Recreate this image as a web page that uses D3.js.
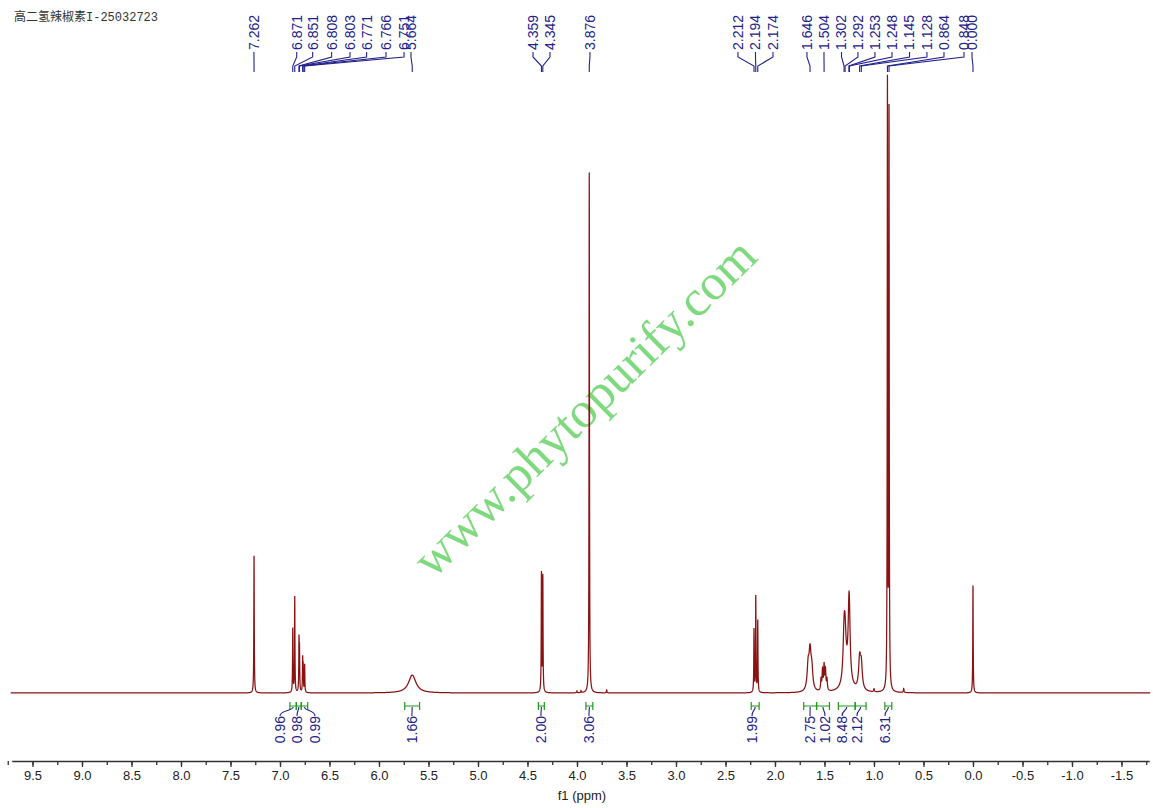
<!DOCTYPE html>
<html><head><meta charset="utf-8">
<script src="https://cdn.jsdelivr.net/npm/d3@7"></script>
<style>body{margin:0;background:#fff}svg{display:block}</style>
</head><body><svg id="c" width="1153" height="808"></svg>
<script>
// ---------- data ----------
const title = "高二氢辣椒素I-25032723";
const watermark = "www.phytopurify.com";
const axisLabel = "f1 (ppm)";

// spectrum lines (ppm, intensity, half-width in ppm)
const linePpm    = [7.262, 6.871, 6.851, 6.808, 6.803, 6.771, 6.766, 6.751, 5.664, 4.359, 4.345, 4.00, 3.96, 3.876, 3.70,
                    2.212, 2.194, 2.174, 1.665, 1.646, 1.628, 1.535, 1.520, 1.504, 1.490, 1.475,
                    1.302, 1.292, 1.270, 1.253, 1.248, 1.145, 1.128, 1.00, 0.864, 0.848, 0.70, 0.000];
const lineHeight = [138, 64, 96, 50, 40, 32, 24, 28, 18, 119, 116, 2, 2, 523, 3,
                    63, 96, 72, 24, 36, 20, 11, 20, 25, 20, 11,
                    43, 36, 16, 52, 36, 30, 24, 3, 607, 577, 4, 108];
const lineWidth  = [0.0025, 0.0025, 0.0025, 0.0025, 0.0025, 0.0025, 0.0025, 0.0025, 0.045, 0.0025, 0.0025, 0.003, 0.003, 0.0025, 0.003,
                    0.0025, 0.0025, 0.0025, 0.012, 0.012, 0.012, 0.005, 0.005, 0.005, 0.005, 0.005,
                    0.012, 0.012, 0.04, 0.01, 0.01, 0.012, 0.012, 0.004, 0.0025, 0.0025, 0.004, 0.0025];

// peak picking labels
const peakValues   = [7.262, 6.871, 6.851, 6.808, 6.803, 6.771, 6.766, 6.751, 5.664, 4.359, 4.345, 3.876,
                      2.212, 2.194, 2.174, 1.646, 1.504, 1.302, 1.292, 1.253, 1.248, 1.145, 1.128, 0.864, 0.848, 0.000];
const peakLabelPpm = [7.263, 6.831, 6.670, 6.478, 6.293, 6.125, 5.929, 5.747, 5.677, 4.444, 4.273, 3.869,
                      2.374, 2.197, 2.020, 1.677, 1.505, 1.328, 1.162, 0.990, 0.818, 0.641, 0.465, 0.293, 0.091, 0.010];

// integrals
const integralFrom  = [6.90, 6.835, 6.785, 5.74, 4.39, 3.91, 2.24, 1.71, 1.58, 1.36, 1.19, 0.89];
const integralTo    = [6.835, 6.785, 6.72, 5.59, 4.33, 3.84, 2.16, 1.58, 1.45, 1.19, 1.08, 0.82];
const integralValue = ["0.96", "0.98", "0.99", "1.66", "2.00", "3.06", "1.99", "2.75", "1.02", "8.48", "2.12", "6.31"];
const integralLabelPpm = [7.00, 6.828, 6.646, 5.667, 4.364, 3.879, 2.232, 1.646, 1.495, 1.323, 1.172, 0.889];

// axis ticks
const majorTicks = d3.range(-1.5, 9.51, 0.5);
const minorTicks = d3.range(-1.75, 9.76, 0.25);

// ---------- drawing ----------
const svg = d3.select("#c");
const x = d3.scaleLinear().domain([9.71, -1.78]).range([11.7, 1149.2]);
const y = d3.scaleLinear().domain([0, 620]).range([693, 76]);

const navy = "#22228a", red = "#8b1212", green = "#1e9a1e";

svg.append("text").attr("x", 14).attr("y", 21)
  .attr("font-family", "'Liberation Mono','Noto Sans CJK SC',monospace")
  .attr("font-size", 12).attr("fill", "#333").text(title);

// watermark
svg.append("text")
  .attr("transform", `translate(${588},${411}) rotate(-44.5)`)
  .attr("text-anchor", "middle").attr("dominant-baseline", "middle")
  .attr("font-family", "'Liberation Serif',serif").attr("font-size", 51)
  .attr("fill", "#7fd97f").text(watermark);

// spectrum
const step = 0.0005;
const samples = d3.range(9.72, -1.79, -step);
linePpm.forEach(p => samples.push(p));
samples.sort((a, b) => b - a);
const spec = samples.map(p => {
  let s = 0;
  for (let i = 0; i < linePpm.length; i++) {
    const d = (p - linePpm[i]) / lineWidth[i];
    s += lineHeight[i] / (1 + d * d);
  }
  return [p, s];
});
svg.append("path").datum(spec)
  .attr("d", d3.line().x(d => x(d[0])).y(d => y(d[1])))
  .attr("fill", "none").attr("stroke", red).attr("stroke-width", 1.25);

// peak labels
const pl = svg.append("g");
peakValues.forEach((v, i) => {
  const lx = x(peakLabelPpm[i]), px = x(v);
  pl.append("path")
    .attr("d", `M${lx},52 L${lx},57 L${px},66 L${px},72`)
    .attr("fill", "none").attr("stroke", navy).attr("stroke-width", 1.1);
  pl.append("text")
    .attr("transform", `translate(${lx},50) rotate(-90)`)
    .attr("dy", "0.35em")
    .attr("font-family", "'Liberation Sans',Arial,sans-serif").attr("font-size", 14)
    .attr("fill", navy).text(v.toFixed(3));
});

// integrals
const ig = svg.append("g");
integralValue.forEach((v, i) => {
  const x1 = x(integralFrom[i]), x2 = x(integralTo[i]), cx = (x1 + x2) / 2, lx = x(integralLabelPpm[i]);
  ig.append("path")
    .attr("d", `M${x1},702 L${x1},710 M${x1},706 L${x2},706 M${x2},702 L${x2},710`)
    .attr("fill", "none").attr("stroke", green).attr("stroke-width", 1.2);
  ig.append("path")
    .attr("d", `M${cx},707 C${cx},711 ${lx},710 ${lx},716`)
    .attr("fill", "none").attr("stroke", navy).attr("stroke-width", 1.1);
  ig.append("text")
    .attr("transform", `translate(${lx},716) rotate(-90)`)
    .attr("dy", "0.35em").attr("text-anchor", "end")
    .attr("font-family", "'Liberation Sans',Arial,sans-serif").attr("font-size", 14)
    .attr("fill", navy).text(v);
});

// axis
const fmt = d => d3.format(".1f")(d).replace("\u2212", "-");
const axG = svg.append("g").attr("transform", "translate(0,761)");
axG.call(d3.axisBottom(x).tickValues(minorTicks).tickSize(4).tickSizeOuter(0).tickFormat(""));
axG.call(g => g.selectAll("path").remove());
const axM = svg.append("g").attr("transform", "translate(0,761)");
axM.call(d3.axisBottom(x).tickValues(majorTicks).tickSize(6).tickSizeOuter(0).tickPadding(4)
  .tickFormat(fmt));
svg.selectAll(".tick line").attr("stroke", "#333").attr("stroke-width", 1.3);
axM.select("path").attr("stroke", "#333").attr("stroke-width", 1.4);
axM.selectAll("text").attr("font-family", "'Liberation Sans',Arial,sans-serif")
  .attr("font-size", 13).attr("fill", "#222");
svg.append("text").attr("x", x(3.95)).attr("y", 800).attr("text-anchor", "middle")
  .attr("font-family", "'Liberation Sans',Arial,sans-serif").attr("font-size", 13)
  .attr("fill", "#222").text(axisLabel);
</script></body></html>
